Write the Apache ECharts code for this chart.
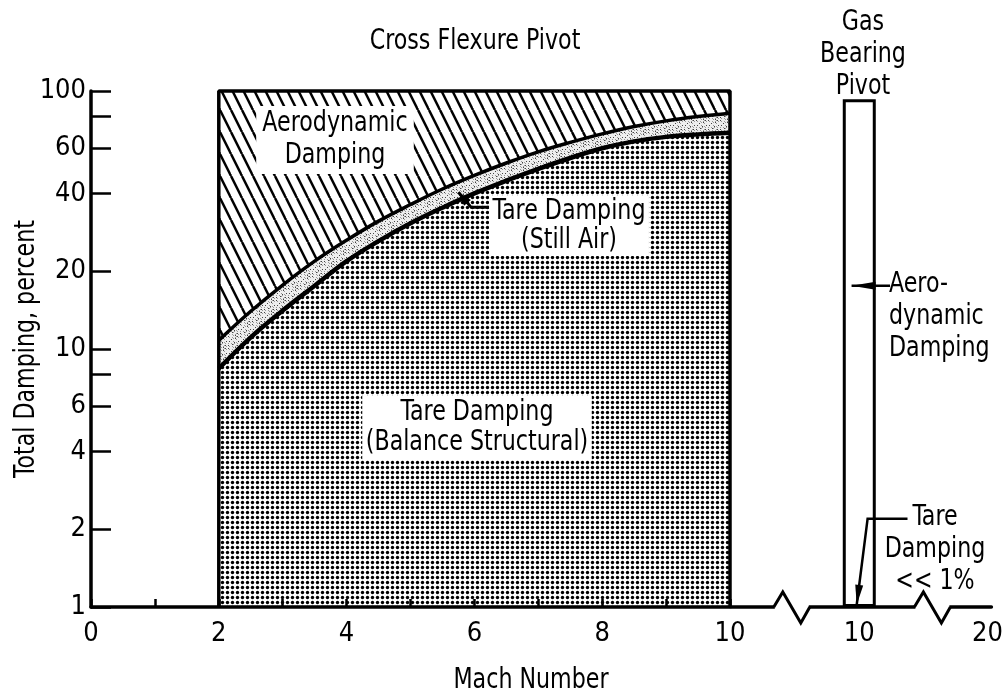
<!DOCTYPE html>
<html><head><meta charset="utf-8">
<script src="https://cdn.jsdelivr.net/npm/echarts@6/dist/echarts.min.js"></script>
<style>html,body{margin:0;padding:0;background:#fff}#c{width:1006px;height:693px}</style>
</head><body><div id="c"></div>
<script>
// ---------- data ----------
// Cross flexure pivot (Mach 2 to 10)
const machGrid      = [2, 2.5, 3, 3.5, 4, 4.5, 5, 5.5, 6, 6.5, 7, 7.5, 8, 8.5, 9, 9.5, 10];
// top of the "Tare Damping (Still Air)" band (= bottom of aerodynamic damping), percent
const stillAirTop   = [10.8, 14.0, 17.7, 21.9, 26.4, 31.3, 36.3, 41.7, 47.1, 52.6, 58.1, 63.2, 68.2, 72.8, 76.6, 79.6, 82.0];
// top of the "Tare Damping (Balance Structural)" region, percent
const structuralTop = [8.4, 11.1, 14.1, 17.6, 21.9, 26.2, 30.7, 35.3, 40.1, 44.9, 49.9, 55.0, 60.0, 63.8, 66.4, 67.9, 68.9];
const regionMach    = [2, 10];
const regionBottom  = 1;
const regionTop     = 100;
// Gas bearing pivot (Mach 10)
const gasMach       = [10];
const gasTotal      = [93];
// tick labels
const yTickLabels   = [1, 2, 4, 6, 10, 20, 40, 60, 100];
const yMajorTicks   = [1, 2, 4, 6, 8, 10, 20, 40, 60, 80, 100];
const yMinorTicks   = [3, 5, 7, 9, 30, 50, 70, 90];
const xTickLabels   = [0, 2, 4, 6, 8, 10];
const xRightLabels  = [10, 20];
// axis break marks on the right-hand axis (axis units)
const xBreakMarks   = [4.74, 15.7];

// ---------- helpers ----------
const FONT = "'DejaVu Sans Condensed','Liberation Sans Narrow','Arial Narrow',sans-serif";
const FS = 27;      // axis labels
const FT = 28;      // annotation text
const SX = 0.88;    // horizontal squeeze of annotation text
const L = v => Math.log10(v);
function pattern(w, h, draw) {
  const c = document.createElement('canvas'); c.width = w; c.height = h;
  const g = c.getContext('2d'); draw(g, w, h);
  return { image: c, repeat: 'repeat' };
}
const dots = pattern(5, 5, g => {
  g.fillStyle = '#fff'; g.fillRect(0, 0, 5, 5);
  g.fillStyle = '#000'; g.beginPath(); g.arc(2.5, 2.5, 1.7, 0, Math.PI * 2); g.fill();
});
const hatch = pattern(11, 22, (g, w, h) => {
  g.fillStyle = '#fff'; g.fillRect(0, 0, w, h);
  g.strokeStyle = '#000'; g.lineWidth = 2.5;
  for (const x0 of [-11, 0, 11]) { g.beginPath(); g.moveTo(x0, 0); g.lineTo(x0 + w, h); g.stroke(); }
});
const stipple = pattern(12, 12, g => {
  g.fillStyle = '#eeeeee'; g.fillRect(0, 0, 12, 12);
  for (let i = 0; i < 12; i++) for (let j = 0; j < 12; j++) {
    const k = (i * 5 + j * 7 + i * j) % 9;
    if (k === 0) { g.fillStyle = '#444'; g.fillRect(i, j, 1, 1); }
    else if (k === 4) { g.fillStyle = '#9a9a9a'; g.fillRect(i, j, 1, 1); }
  }
});

const boxData = [[regionMach[0], L(regionBottom)], [regionMach[0], L(regionTop)],
                 [regionMach[1], L(regionTop)], [regionMach[1], L(regionBottom)]];
const labelStyle = { color: '#000', fontSize: FS, fontFamily: FONT };

const chart = echarts.init(document.getElementById('c'), null, { renderer: 'canvas' });
chart.setOption({
  animation: false,
  backgroundColor: '#fff',
  grid: [
    { left: 91, right: 276, top: 91, bottom: 86 },
    { left: 731, right: 14, top: 91, bottom: 86 }
  ],
  xAxis: [
    { gridIndex: 0, type: 'value', min: 0, max: 10, interval: 1, z: 6,
      axisLine: { lineStyle: { color: '#000', width: 3.5 } },
      axisTick: { inside: true, length: 8, lineStyle: { color: '#000', width: 2.5 } },
      axisLabel: Object.assign({ margin: 13, formatter: v => xTickLabels.includes(v) ? String(v) : '' }, labelStyle),
      splitLine: { show: false } },
    { gridIndex: 1, type: 'value', min: 0, max: 20.3,
      axisLine: { lineStyle: { color: '#000', width: 3.5 } },
      axisTick: { show: false },
      axisLabel: Object.assign({ margin: 13, customValues: xRightLabels, formatter: v => String(v) }, labelStyle),
      splitLine: { show: false } }
  ],
  yAxis: [
    { gridIndex: 0, type: 'value', min: 0, max: 2, z: 6,
      axisLine: { show: true, lineStyle: { color: '#000', width: 3.5 } },
      axisTick: { show: true, inside: true, length: 20, customValues: yMajorTicks.map(L),
                  lineStyle: { color: '#000', width: 2.5 } },
      axisLabel: Object.assign({ margin: 5, customValues: yTickLabels.map(L),
                  formatter: v => String(Math.round(Math.pow(10, v))) }, labelStyle),
      splitLine: { show: false } },
    { gridIndex: 1, type: 'value', min: 0, max: 2, show: false },
    { gridIndex: 0, type: 'value', min: 0, max: 2,
      axisLine: { show: false },
      axisTick: { show: true, inside: true, length: 8, customValues: yMinorTicks.map(L),
                  lineStyle: { color: '#000', width: 2.5 } },
      axisLabel: { show: false }, splitLine: { show: false } }
  ],
  series: [
    { type: 'line', name: 'Aerodynamic Damping', xAxisIndex: 0, yAxisIndex: 0, data: boxData,
      showSymbol: false, lineStyle: { opacity: 0 }, areaStyle: { color: hatch, opacity: 1 }, silent: true },
    { type: 'line', name: 'Tare Damping (Still Air)', xAxisIndex: 0, yAxisIndex: 0,
      data: machGrid.map((m, i) => [m, L(stillAirTop[i])]), smooth: 0.4, showSymbol: false,
      lineStyle: { color: '#000', width: 3.5 }, areaStyle: { color: stipple, opacity: 1 }, silent: true },
    { type: 'line', name: 'Tare Damping (Balance Structural)', xAxisIndex: 0, yAxisIndex: 0,
      data: machGrid.map((m, i) => [m, L(structuralTop[i])]), smooth: 0.4, showSymbol: false,
      lineStyle: { color: '#000', width: 4.5 }, areaStyle: { color: dots, opacity: 1 }, silent: true },
    { type: 'line', name: 'outline', xAxisIndex: 0, yAxisIndex: 0, data: boxData, clip: false,
      showSymbol: false, lineStyle: { color: '#000', width: 3.5 }, silent: true, z: 3 },
    { type: 'bar', name: 'Gas Bearing Pivot', xAxisIndex: 1, yAxisIndex: 1,
      data: gasMach.map((m, i) => [m, L(gasTotal[i])]), barWidth: 33,
      itemStyle: { color: '#fff', borderColor: '#000', borderWidth: 3 }, silent: true },
    { type: 'custom', name: 'breaks', xAxisIndex: 1, yAxisIndex: 1, z: 5, clip: false, silent: true,
      data: xBreakMarks.map(v => [v, 0]),
      renderItem: (params, api) => {
        const p = api.coord([api.value(0), api.value(1)]);
        return { type: 'group', children: [
          { type: 'rect', shape: { x: p[0] - 17, y: p[1] - 4, width: 34, height: 8 }, style: { fill: '#fff' } },
          { type: 'polyline', shape: { points: [[p[0] - 18, p[1]], [p[0] - 9, p[1] - 15], [p[0] + 9, p[1] + 16], [p[0] + 18, p[1]]] },
            style: { stroke: '#000', lineWidth: 3, fill: null } }
        ] };
      } }
  ]
});

// ---------- annotations ----------
const stillAirLeader = [[6.3, 35.4], [5.95, 35.4], [5.75, 40.5]];
const aeroLeader     = [[12.4, 17.6], [9.4, 17.6]];
const tareLeader     = [[13.76, 2.2], [10.65, 2.2], [9.8, 1.02]];

function px(gi, pts) {
  return pts.map(p => chart.convertToPixel({ xAxisIndex: gi, yAxisIndex: gi }, [p[0], L(p[1])]));
}
function arrow(pts, headLen, headHalf, lw) {
  const n = pts.length, tip = pts[n - 1], prev = pts[n - 2];
  const dx = tip[0] - prev[0], dy = tip[1] - prev[1], d = Math.hypot(dx, dy);
  const ux = dx / d, uy = dy / d;
  const bx = tip[0] - ux * headLen, by = tip[1] - uy * headLen;
  return [
    { type: 'polyline', z: 100, shape: { points: pts }, style: { stroke: '#000', lineWidth: lw, fill: null } },
    { type: 'polygon', z: 100, shape: { points: [tip, [bx - uy * headHalf, by + ux * headHalf], [bx + uy * headHalf, by - ux * headHalf]] },
      style: { fill: '#000' } }
  ];
}
function txt(text, x, y, opts, rot) {
  return { type: 'text', z: 110, x, y, scaleX: SX, rotation: rot || 0,
    style: Object.assign({ text, x: 0, y: 0, fill: '#000', fontSize: FT, fontFamily: FONT,
      align: 'center', verticalAlign: 'middle', lineHeight: 32 }, opts || {}) };
}
const graphics = [
  txt('Cross Flexure Pivot', 475, 42),
  txt('Gas\nBearing\nPivot', 863, 55),
  txt('Aerodynamic\nDamping', 335, 140, { backgroundColor: '#fff', padding: [2, 7] }),
  txt('Tare Damping\n(Still Air)', 569, 226, { backgroundColor: '#fff', padding: [1, 4], lineHeight: 29 }),
  txt('Tare Damping\n(Balance Structural)', 477, 428, { backgroundColor: '#fff', padding: [2, 4], lineHeight: 30 }),
  txt('Aero-\ndynamic\nDamping', 889, 317, { align: 'left' }),
  txt('Tare\nDamping\n<< 1%', 935, 550),
  txt('Mach Number', 531, 681),
  txt('Total Damping, percent', 27, 349, {}, Math.PI / 2)
]
  .concat(arrow(px(0, stillAirLeader), 14, 4.5, 3))
  .concat(arrow(px(1, aeroLeader), 24, 4, 2.5))
  .concat(arrow(px(1, tareLeader), 20, 4, 2.5));

chart.setOption({ graphic: { elements: graphics } });
</script>
</body></html>
